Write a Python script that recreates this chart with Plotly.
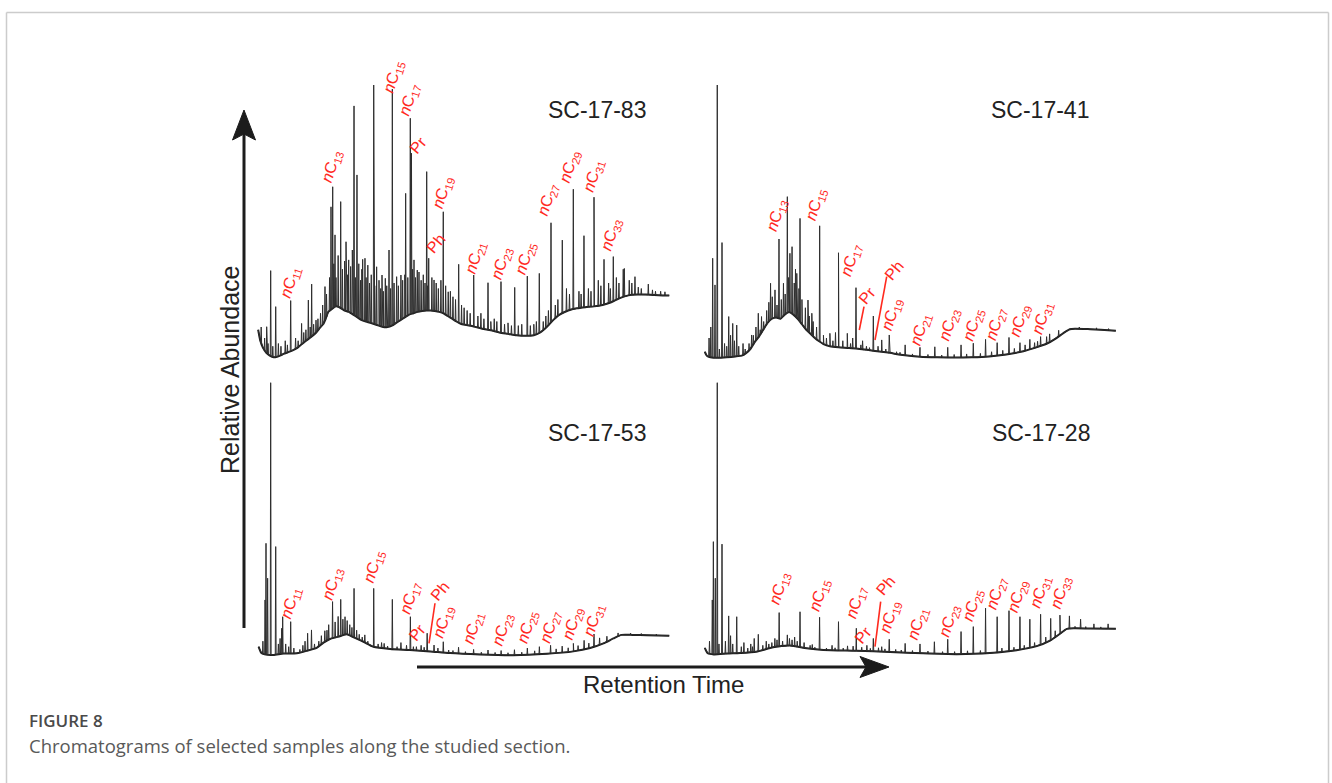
import numpy as np
import plotly.graph_objects as go

W, H = 1332, 783

SAMPLES = ["SC-17-83", "SC-17-41", "SC-17-53", "SC-17-28"]

# ---------------- SC-17-83 ----------------
P1_BASE_T = [1.9, 2.4, 3.0, 3.8, 4.6, 5.5, 6.3, 7.0, 7.8, 8.8, 9.8, 10.8, 11.6, 12.4, 13.2, 14.2, 15.4, 16.3,
             17.0, 17.6, 18.2, 19.0, 20.0, 21.0, 22.0, 23.0, 24.0, 25.0, 26.0, 27.0, 28.0, 29.0, 30.0, 31.0,
             32.0, 33.0, 34.0, 35.0, 36.0, 37.0, 38.0, 39.0, 40.0, 41.0, 42.0, 43.0, 44.0, 45.0, 46.0, 47.0,
             48.0, 49.0, 50.0, 52.0, 54.0, 56.0, 58.0, 60.0, 62.0, 64.0, 66.0, 67.5, 69.0, 70.5, 72.0, 74.0,
             76.0, 78.0, 80.0, 82.0, 84.0, 86.0, 88.0, 90.0, 92.0, 94.0, 96.0, 97.5]
P1_BASE_A = [11.0, 7.0, 4.5, 2.6, 1.6, 1.0, 1.2, 1.6, 2.2, 2.8, 3.4, 4.2, 5.2, 6.2, 7.2, 8.4, 10.0, 11.8,
             13.0, 15.0, 17.5, 18.5, 19.5, 19.0, 18.0, 17.5, 16.5, 15.5, 14.5, 14.0, 13.5, 13.0, 12.5, 12.0,
             12.0, 12.5, 13.5, 14.5, 15.5, 16.5, 17.0, 17.5, 17.8, 18.0, 18.0, 17.8, 17.5, 17.0, 16.0, 15.0,
             14.0, 13.2, 12.8, 12.2, 11.4, 10.8, 10.0, 9.5, 9.0, 8.8, 9.0, 10.0, 12.0, 14.5, 16.5, 18.0,
             18.8, 19.2, 19.5, 20.0, 21.0, 22.5, 23.5, 23.8, 23.8, 23.6, 23.5, 23.5]
P1_PEAK_T = [3.88, 4.81, 5.98, 9.46, 12.0, 13.57, 14.34, 15.35, 17.44, 18.84, 19.23, 19.77, 21.09, 22.33,
             22.95, 24.19, 24.88, 26.2, 26.74, 27.4, 28.77, 29.45, 30.7, 31.47, 32.33, 33.1, 34.1, 35.1,
             36.2, 37.28, 37.55, 38.14, 38.9, 41.09, 41.56, 42.8, 44.95, 46.1, 48.53, 52.02, 55.35, 58.37,
             61.56, 64.49, 67.28, 70.0, 72.63, 75.19, 77.67, 80.0, 82.33, 84.49, 87.05, 89.53, 92.63]
P1_PEAK_A = [12.1, 32.5, 19.4, 21.6, 13.3, 21.8, 27.6, 14.5, 26.7, 55.7, 63.0, 45.5, 57.6, 43.0,
             36.4, 92.4, 67.3, 36.6, 37.0, 34.5, 100.0, 33.9, 30.9, 29.7, 40.0, 98.5, 30.3, 30.9,
             60.6, 87.9, 75.2, 36.4, 32.7, 68.5, 37.0, 29.1, 53.9, 24.8, 34.8, 30.9, 28.1, 28.5,
             26.4, 30.5, 31.5, 49.9, 43.6, 62.1, 45.2, 59.2, 36.6, 37.6, 33.3, 30.3, 27.6]
P1_MINOR_T = [2.6, 3.4, 4.2, 5.3, 6.6, 7.2, 8.2, 8.7, 10.6, 11.2, 12.5, 13.0, 14.0, 14.8, 15.8, 16.4, 16.9,
              17.8, 18.5, 19.5, 20.0, 20.5, 21.5, 22.0, 22.7, 23.4, 23.8, 24.5, 25.3, 25.7, 26.0, 27.0,
              27.8, 28.2, 29.0, 30.0, 30.4, 31.0, 31.8, 32.7, 33.5, 34.5, 35.5, 36.0, 36.7, 37.8, 38.5,
              39.3, 39.8, 40.3, 40.7, 41.3, 42.3, 43.3, 43.8, 44.4, 45.5, 46.6, 47.2, 47.8, 49.2, 49.8,
              50.5, 51.2, 53.0, 53.7, 54.4, 56.0, 56.8, 57.4, 59.2, 60.0, 60.8, 62.4, 63.2, 65.2, 66.0,
              66.6, 68.2, 68.8, 69.4, 71.0, 71.6, 73.6, 74.3, 76.5, 77.0, 78.7, 79.3, 81.0, 81.6, 83.4,
              83.8, 85.2, 85.8, 86.8, 88.2, 88.8, 90.3, 91.0, 93.6, 94.3, 95.5, 96.5]
P1_MINOR_A = [12, 8, 6, 5, 6, 5, 7, 5.5, 8, 7, 10, 11, 12, 13, 15, 17, 20,
              24, 30, 35, 30, 38, 33, 36, 31, 34, 40, 30, 35, 29, 33, 30,
              28, 31, 27, 29, 26, 25, 27, 26, 28, 27, 29, 31, 30, 33, 30,
              32, 29, 31, 28, 27, 30, 28, 26, 29, 27, 25, 23, 22, 20, 19,
              18, 17, 16, 17, 15, 14, 15, 14, 13, 13.5, 12.5, 12.5, 13, 12.5, 13,
              14, 14, 16, 18, 20, 22, 26, 24, 25, 24, 26, 25, 29, 27, 28,
              26, 30, 28, 33, 29, 28, 26.5, 26.0, 25.5, 25.0, 25.0, 24.8]
P1_LABELS = ["nC11", "nC13", "nC15", "nC17", "Pr", "nC19", "Ph", "nC21", "nC23", "nC25", "nC27", "nC29",
             "nC31", "nC33"]
P1_LABEL_T = [9.47, 19.0, 33.3, 36.98, 39.3, 44.95, 43.2, 52.5, 58.5, 64.1, 69.4, 74.4, 79.8, 84.1]
P1_LABEL_A = [28.1, 70.5, 102.9, 94.5, 78.2, 60.8, 42.4, 37.3, 35.2, 37.0, 58.2, 70.5, 66.9, 45.6]

# ---------------- SC-17-41 ----------------
P2_BASE_T = [1.9, 2.4, 3.2, 5.0, 7.0, 9.0, 10.5, 11.5, 12.5, 13.5, 14.5, 15.5, 16.5, 17.5, 18.5, 19.5, 20.5,
             21.5, 22.5, 23.5, 24.5, 25.5, 26.5, 27.5, 28.5, 29.5, 31.0, 33.0, 35.0, 37.0, 39.0, 41.0, 43.0,
             45.0, 47.0, 49.0, 52.0, 56.0, 60.0, 64.0, 68.0, 72.0, 76.0, 79.0, 81.5, 83.5, 85.3, 86.8, 88.0,
             91.5, 94.0, 97.5]
P2_BASE_A = [3.0, 1.5, 1.0, 0.8, 1.0, 1.3, 1.6, 2.5, 4.0, 6.5, 8.5, 11.0, 13.5, 15.0, 15.5, 15.0, 16.5,
             17.5, 16.5, 15.0, 13.0, 11.0, 9.5, 8.0, 6.8, 5.8, 5.0, 4.6, 4.4, 4.2, 3.8, 3.4, 3.0,
             2.6, 2.0, 1.6, 1.2, 1.0, 0.9, 1.0, 1.3, 2.0, 3.2, 4.6, 6.0, 7.8, 9.8, 11.2, 11.4,
             11.2, 11.0, 10.6]
P2_PEAK_T = [3.74, 4.28, 4.81, 5.91, 7.47, 8.4, 9.33, 12.8, 14.35, 15.1, 17.2, 18.23, 19.16, 20.2, 21.1,
             21.7, 22.2, 23.3, 24.05, 25.9, 26.8, 28.62, 31.0, 33.0, 35.05, 37.07, 41.1, 43.05, 44.8,
             48.5, 51.95, 55.4, 58.4, 61.5, 64.35, 67.2, 69.9, 72.65, 75.2, 77.5, 80.0]
P2_PEAK_A = [37.0, 27.3, 100.0, 42.7, 15.8, 13.3, 12.7, 9.1, 17.0, 15.8, 27.9, 25.5, 44.0, 27.9, 59.4,
             38.8, 41.2, 31.5, 51.5, 21.8, 17.0, 48.8, 9.7, 39.0, 9.7, 26.3, 16.0, 7.3, 9.1,
             5.5, 4.6, 4.8, 4.6, 5.5, 6.1, 7.5, 6.3, 8.2, 6.3, 7.5, 8.5]
P2_MINOR_T = [2.9, 3.3, 5.3, 6.5, 7.0, 7.9, 8.8, 9.8, 10.8, 11.3, 12.2, 13.2, 13.8, 14.8, 15.6, 16.3, 16.8,
              17.6, 18.7, 19.7, 20.6, 21.4, 22.7, 23.0, 23.8, 24.5, 25.3, 26.2, 27.1, 27.9, 29.5, 30.2,
              31.7, 32.3, 34.0, 35.8, 36.3, 38.2, 38.6, 39.5, 40.2, 42.2, 44.0, 46.5, 47.3, 50.2, 53.8,
              57.0, 59.9, 62.8, 66.0, 68.6, 71.2, 73.9, 76.4, 78.6, 79.3, 81.4, 82.1, 84.2, 89.0, 93.0,
              95.8]
P2_MINOR_A = [8, 12, 4, 6, 5, 9, 7, 5, 6, 4, 6, 9, 12, 11, 14, 18, 21,
              23, 20, 22, 24, 30, 28, 33, 26, 22, 19, 16, 14, 12, 9, 8,
              7, 10, 7, 6, 8, 5.5, 7, 5, 4.5, 5, 4, 3, 2.8, 2.2, 2,
              1.8, 2, 2.2, 2.4, 3.0, 3.5, 4.2, 5.5, 6.3, 6.8, 8.5, 9.5, 10.8, 12.0, 11.7,
              11.4]
P2_LABELS = ["nC13", "nC15", "nC17", "Pr", "Ph", "nC19", "nC21", "nC23", "nC25", "nC27", "nC29", "nC31"]
P2_LABEL_T = [18.6, 27.7, 36.1, 39.7, 45.9, 45.4, 52.1, 58.7, 64.3, 69.8, 75.2, 80.4]
P2_LABEL_A = [52.7, 56.7, 36.4, 23.4, 32.7, 16.7, 11.2, 12.7, 12.7, 13.1, 14.5, 15.2]
P2_LINES = [[37.84, 10.9, 38.93, 19.4], [41.49, 7.27, 44.21, 30.3]]

# ---------------- SC-17-53 ----------------
P3_BASE_T = [2.0, 2.6, 3.4, 5.4, 7.8, 10.9, 13.2, 15.5, 17.1, 18.6, 20.9, 22.5, 24.0, 26.4, 28.7, 32.6,
             37.2, 41.9, 46.5, 53.5, 61.2, 69.0, 75.2, 79.1, 82.2, 84.5, 86.4, 89.0, 92.3, 97.5]
P3_BASE_A = [4.0, 1.8, 1.2, 1.0, 1.5, 1.6, 2.5, 3.6, 5.5, 6.8, 7.8, 8.5, 7.5, 5.8, 4.0, 3.2,
             2.8, 2.3, 1.7, 1.2, 0.9, 1.4, 2.3, 3.5, 5.2, 7.0, 8.3, 8.3, 8.2, 8.0]
P3_PEAK_T = [3.5, 3.72, 4.1, 4.81, 5.98, 7.37, 7.6, 9.46, 13.4, 14.3, 17.4, 19.2, 21.1, 22.1, 24.2,
             26.7, 28.77, 31.2, 33.1, 35.1, 37.3, 38.7, 41.2, 42.8, 44.95, 48.5, 52.0, 55.35, 58.4,
             61.5, 64.5, 67.3, 69.9, 72.6, 75.2, 77.7, 80.0]
P3_PEAK_A = [21.0, 41.6, 28.9, 100.0, 40.4, 10.7, 14.9, 13.1, 8.9, 10.1, 9.8, 20.4, 21.2, 14.9, 25.2,
             8.3, 25.2, 5.2, 21.2, 5.5, 14.9, 4.0, 8.9, 4.6, 5.8, 3.8, 3.0, 2.8, 2.6,
             2.9, 3.5, 4.0, 4.5, 4.2, 5.2, 6.3, 8.6]
P3_MINOR_T = [3.0, 6.6, 7.0, 8.3, 9.0, 10.2, 11.6, 12.3, 12.8, 15.0, 16.0, 16.6, 17.9, 18.3, 19.8, 20.5,
              21.6, 22.6, 23.2, 23.7, 24.8, 25.4, 26.1, 27.4, 29.8, 30.6, 32.0, 34.2, 36.4, 38.0, 39.8,
              40.5, 43.7, 46.2, 47.2, 50.1, 53.8, 57.0, 60.0, 63.2, 66.2, 71.2, 74.0, 76.3, 78.8, 81.3,
              83.0, 85.6, 88.5, 91.0, 94.5]
P3_MINOR_A = [6, 5, 7, 5, 4, 3.5, 3, 4.5, 6, 5, 6, 8, 10, 12, 13, 15,
              14, 13.5, 12, 11, 10, 8.5, 7.5, 6, 5, 5.5, 4.2, 4, 4.5, 4, 4.5,
              3.8, 3.5, 2.8, 2.6, 2.2, 2, 1.9, 1.8, 2, 2.5, 3.2, 3.6, 4.4, 5.3, 7.2,
              7.8, 9.0, 8.9, 8.8, 8.6]
P3_LABELS = ["nC11", "nC13", "nC15", "nC17", "Pr", "Ph", "nC19", "nC21", "nC23", "nC25", "nC27", "nC29",
             "nC31"]
P3_LABEL_T = [9.47, 19.1, 28.8, 37.4, 38.9, 44.3, 45.1, 51.9, 58.9, 64.5, 69.8, 75.2, 80.0]
P3_LABEL_A = [19.8, 26.8, 33.3, 21.8, 9.2, 24.4, 13.1, 10.7, 10.1, 11.1, 11.1, 12.3, 13.5]
P3_LINES = [[41.63, 5.24, 43.02, 19.8]]

# ---------------- SC-17-28 ----------------
P4_BASE_T = [1.9, 2.6, 4.0, 7.1, 10.1, 13.9, 17.8, 21.7, 25.6, 29.5, 37.2, 45.0, 52.7, 60.5, 68.2, 74.4,
             79.1, 82.2, 84.5, 86.1, 88.0, 91.5, 97.5]
P4_BASE_A = [3.6, 1.6, 1.2, 1.5, 1.7, 2.2, 3.8, 4.4, 3.4, 2.8, 2.5, 2.1, 1.6, 1.3, 1.7, 2.7,
             4.2, 6.2, 8.7, 10.5, 10.7, 10.6, 10.5]
P4_PEAK_T = [3.65, 3.9, 4.35, 4.81, 5.91, 7.46, 9.33, 13.4, 14.35, 17.5, 19.2, 21.1, 24.05, 26.9, 28.6,
             33.0, 35.1, 37.15, 41.1, 43.05, 44.8, 48.5, 51.95, 55.3, 58.4, 61.5, 64.35, 67.2, 69.9,
             72.65, 75.2, 77.5, 80.0, 82.35, 84.5, 86.7, 89.3, 92.4, 95.7]
P4_PEAK_A = [21.0, 42.2, 28.9, 100.0, 41.3, 15.2, 14.9, 7.0, 8.5, 5.5, 16.4, 8.3, 16.7, 4.8, 14.7,
             13.1, 4.3, 10.7, 7.0, 4.0, 6.7, 5.2, 5.0, 5.8, 6.7, 9.5, 11.3, 18.0, 14.9,
             17.1, 14.9, 14.0, 15.8, 14.3, 15.5, 15.2, 14.0, 12.3, 12.3]
P4_MINOR_T = [3.0, 5.2, 6.7, 7.9, 8.4, 10.4, 11.0, 11.9, 12.6, 13.0, 15.4, 16.2, 16.8, 18.2, 18.7, 20.0,
              21.6, 22.2, 22.8, 23.4, 25.0, 26.4, 27.5, 30.2, 31.5, 32.2, 34.1, 36.4, 38.4, 39.6, 40.4,
              42.3, 43.8, 46.3, 47.6, 50.2, 53.8, 57.2, 60.0, 63.0, 66.0, 71.0, 73.8, 76.2, 78.6, 81.2,
              83.4, 88.0, 90.5, 94.0]
P4_MINOR_A = [6, 5, 6, 8, 5, 4, 5.5, 3.5, 5, 4, 4.5, 6, 5, 7, 6.5, 6,
              7, 6.5, 7.5, 6, 5.5, 4.5, 3.8, 3.5, 4.5, 3.6, 3.5, 4.2, 3.8, 4.5, 3.4,
              3.6, 3.2, 3, 2.8, 2.6, 2.4, 2.2, 2.2, 2.5, 2.6, 3.5, 3.8, 4.5, 5.5, 7.5,
              9.8, 11.4, 11.3, 11.2]
P4_LABELS = ["nC13", "nC15", "nC17", "Pr", "Ph", "nC19", "nC21", "nC23", "nC25", "nC27", "nC29", "nC31",
             "nC33"]
P4_LABEL_T = [19.4, 28.7, 37.2, 38.9, 44.0, 45.0, 51.6, 58.9, 64.3, 69.9, 74.8, 79.9, 84.7]
P4_LABEL_A = [25.0, 22.5, 20.1, 8.3, 26.2, 14.7, 12.3, 13.5, 18.9, 23.2, 22.2, 23.8, 23.8]
P4_LINES = [[41.49, 4.0, 42.81, 20.4]]

PANELS = [
    (P1_BASE_T, P1_BASE_A, P1_PEAK_T, P1_PEAK_A, P1_MINOR_T, P1_MINOR_A, P1_LABELS, P1_LABEL_T, P1_LABEL_A, []),
    (P2_BASE_T, P2_BASE_A, P2_PEAK_T, P2_PEAK_A, P2_MINOR_T, P2_MINOR_A, P2_LABELS, P2_LABEL_T, P2_LABEL_A, P2_LINES),
    (P3_BASE_T, P3_BASE_A, P3_PEAK_T, P3_PEAK_A, P3_MINOR_T, P3_MINOR_A, P3_LABELS, P3_LABEL_T, P3_LABEL_A, P3_LINES),
    (P4_BASE_T, P4_BASE_A, P4_PEAK_T, P4_PEAK_A, P4_MINOR_T, P4_MINOR_A, P4_LABELS, P4_LABEL_T, P4_LABEL_A, P4_LINES),
]

# ---------------- layout geometry (pixels) ----------------
PANEL_X = [(250, 680), (696.6, 1126.6), (250, 680), (696.6, 1126.6)]
PANEL_Y = [(75, 365), (75, 365), (372.7, 662.7), (372.7, 662.7)]
T_RANGE = [0, 100]
A_RANGE = [-1.818, 103.64]
TITLE_POS = [(597, 110), (1040, 110), (597, 433), (1041, 433)]

RED = "#ff2a1f"
INK = "#1c1c1c"
SPIKE = "#2e2e2e"
FONT = "Liberation Sans, Arial, sans-serif"


def fx(x):
    return x / W


def fy(y):
    return 1 - y / H


def build_trace(bt, ba, pt, pa, mt, ma, hw=0.1):
    bt = np.asarray(bt, float)
    ba = np.asarray(ba, float)
    pts = list(zip(bt.tolist(), ba.tolist()))
    for t, a in zip(list(pt) + list(mt), list(pa) + list(ma)):
        b = float(np.interp(t, bt, ba))
        pts += [(t - hw, b), (t, a), (t + hw, b)]
    pts.sort(key=lambda p: p[0])
    return [p[0] for p in pts], [p[1] for p in pts]


def fmt(name):
    if name.startswith("nC"):
        return "<i>n</i>C<sub>" + name[2:] + "</sub>"
    return name


fig = go.Figure()
annotations = []
shapes = []

for i, panel in enumerate(PANELS):
    bt, ba, pt, pa, mt, ma, labs, lt, la, lines = panel
    k = "" if i == 0 else str(i + 1)
    # thick baseline of the chromatogram
    fig.add_trace(go.Scatter(x=bt, y=ba, mode="lines", xaxis="x" + k, yaxis="y" + k,
                             line=dict(color=INK, width=2.0, shape="spline", smoothing=0.6),
                             hoverinfo="skip", showlegend=False))
    xs, ys = build_trace(bt, ba, pt, pa, mt, ma)
    fig.add_trace(go.Scatter(x=xs, y=ys, mode="lines", xaxis="x" + k, yaxis="y" + k,
                             line=dict(color=SPIKE, width=1.0), hoverinfo="skip", showlegend=False))
    x0, x1 = PANEL_X[i]
    y0, y1 = PANEL_Y[i]
    fig.layout["xaxis" + k] = dict(domain=[fx(x0), fx(x1)], range=T_RANGE, visible=False,
                                    anchor="y" + k, fixedrange=True)
    fig.layout["yaxis" + k] = dict(domain=[fy(y1), fy(y0)], range=A_RANGE, visible=False,
                                    anchor="x" + k, fixedrange=True)
    for name, t, a in zip(labs, lt, la):
        ang = -50 if name in ("Pr", "Ph") else -72
        annotations.append(dict(x=t, y=a, xref="x" + k, yref="y" + k, text=fmt(name), showarrow=False,
                                textangle=ang, xanchor="center", yanchor="middle",
                                font=dict(family=FONT, size=16, color=RED)))
    for (ta, aa, tb, ab) in lines:
        shapes.append(dict(type="line", xref="x" + k, yref="y" + k, x0=ta, y0=aa, x1=tb, y1=ab,
                           line=dict(color=RED, width=1.6)))
    tx, ty = TITLE_POS[i]
    annotations.append(dict(x=fx(tx), y=fy(ty), xref="paper", yref="paper", text=SAMPLES[i],
                            showarrow=False, xanchor="center", yanchor="middle",
                            font=dict(family=FONT, size=23, color="#222222")))

# axis labels
annotations.append(dict(x=fx(230), y=fy(370), xref="paper", yref="paper", text="Relative Abundace",
                        showarrow=False, textangle=-90, xanchor="center", yanchor="middle",
                        font=dict(family=FONT, size=25, color="#222222")))
annotations.append(dict(x=fx(663), y=fy(684), xref="paper", yref="paper", text="Retention Time",
                        showarrow=False, xanchor="center", yanchor="middle",
                        font=dict(family=FONT, size=24, color="#222222")))
# caption
annotations.append(dict(x=fx(27), y=fy(720), xref="paper", yref="paper", text="FIGURE 8",
                        showarrow=False, xanchor="left", yanchor="middle",
                        font=dict(family="Open Sans", size=17, color="#4a4a4a", weight=600)))
annotations.append(dict(x=fx(27), y=fy(745), xref="paper", yref="paper",
                        text="Chromatograms of selected samples along the studied section.",
                        showarrow=False, xanchor="left", yanchor="middle",
                        font=dict(family="Open Sans", size=18.5, color="#595959")))

# frame
FR = "#cccccc"
shapes.append(dict(type="line", xref="paper", yref="paper", x0=fx(6.5), y0=fy(12.5), x1=fx(1328.5), y1=fy(12.5),
                   line=dict(color=FR, width=1.5)))
shapes.append(dict(type="line", xref="paper", yref="paper", x0=fx(6.5), y0=fy(12.5), x1=fx(6.5), y1=fy(783),
                   line=dict(color=FR, width=1.5)))
shapes.append(dict(type="line", xref="paper", yref="paper", x0=fx(1328.5), y0=fy(12.5), x1=fx(1328.5), y1=fy(783),
                   line=dict(color=FR, width=1.5)))


def path(points):
    return "M " + " L ".join(f"{fx(x):.5f},{fy(y):.5f}" for x, y in points) + " Z"


# y arrow
shapes.append(dict(type="line", xref="paper", yref="paper", x0=fx(244), y0=fy(628), x1=fx(244), y1=fy(132),
                   line=dict(color=INK, width=3)))
shapes.append(dict(type="path", xref="paper", yref="paper",
                   path=path([(244, 110), (232.5, 140), (244, 134), (255.5, 140)]),
                   fillcolor=INK, line=dict(color=INK, width=1)))
# x arrow
shapes.append(dict(type="line", xref="paper", yref="paper", x0=fx(417), y0=fy(667), x1=fx(866), y1=fy(667),
                   line=dict(color=INK, width=3)))
shapes.append(dict(type="path", xref="paper", yref="paper",
                   path=path([(889, 667), (860, 656.5), (866, 667), (860, 677.5)]),
                   fillcolor=INK, line=dict(color=INK, width=1)))

fig.update_layout(width=W, height=H, margin=dict(l=0, r=0, t=0, b=0),
                  paper_bgcolor="white", plot_bgcolor="white", showlegend=False,
                  annotations=annotations, shapes=shapes)

fig.write_html("out.html")
